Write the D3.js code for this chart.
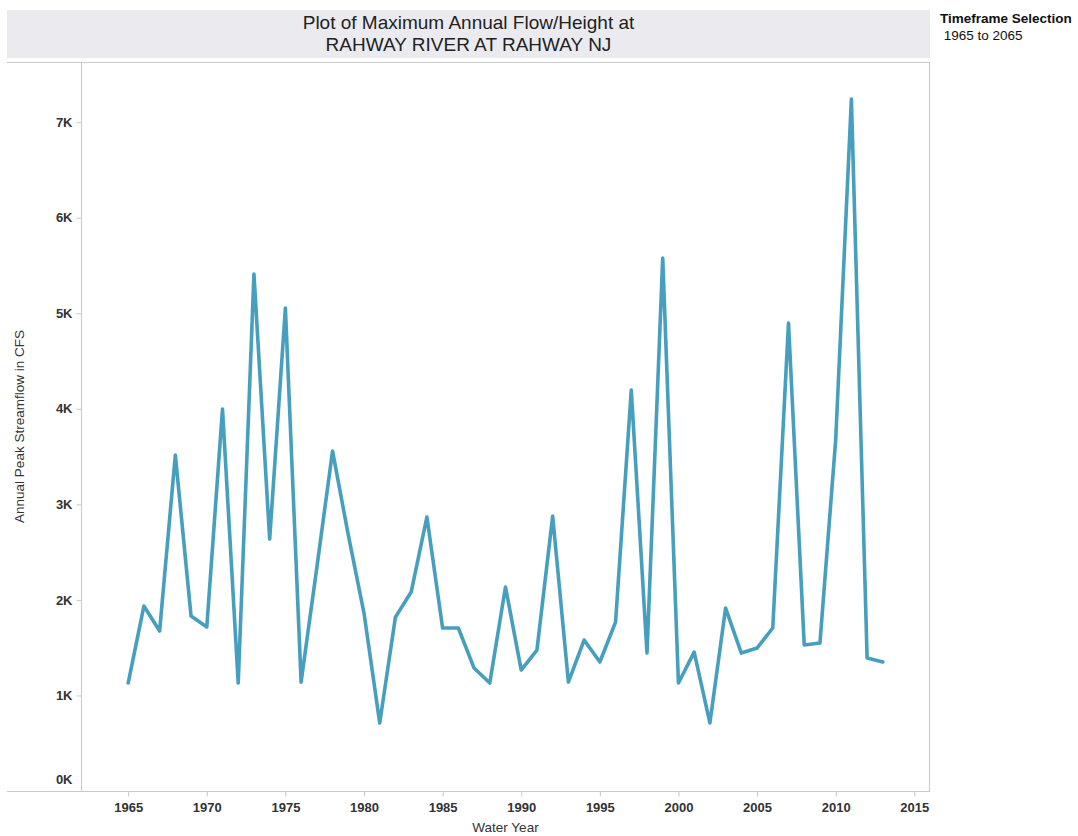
<!DOCTYPE html>
<html>
<head>
<meta charset="utf-8">
<script src="https://cdn.jsdelivr.net/npm/d3@7"></script>
<style>
  html, body { margin: 0; padding: 0; background: #fff; }
  svg { display: block; font-family: "Liberation Sans", Arial, sans-serif; }
</style>
</head>
<body>
<svg id="chart" width="1078" height="836"></svg>
<script>
// Annual peak streamflow, Rahway River at Rahway NJ (cfs)
const years = [
  1965, 1966, 1967, 1968, 1969, 1970, 1971, 1972, 1973, 1974,
  1975, 1976, 1977, 1978, 1979, 1980, 1981, 1982, 1983, 1984,
  1985, 1986, 1987, 1988, 1989, 1990, 1991, 1992, 1993, 1994,
  1995, 1996, 1997, 1998, 1999, 2000, 2001, 2002, 2003, 2004,
  2005, 2006, 2007, 2008, 2009, 2010, 2011, 2012, 2013
];
const peakFlow = [
  1130, 1936, 1674, 3516, 1831, 1716, 3997, 1130, 5410, 2637,
  5054, 1140, 2340, 3558, 2680, 1862, 712, 1820, 2082, 2867,
  1706, 1706, 1287, 1130, 2135, 1266, 1475, 2877, 1140, 1580,
  1350, 1768, 4196, 1444, 5577, 1130, 1454, 712, 1915, 1444,
  1496, 1706, 4897, 1528, 1549, 3673, 7241, 1392, 1350
];
const xTicks = [1965, 1970, 1975, 1980, 1985, 1990, 1995, 2000, 2005, 2010, 2015];
const yTicks = [0, 1000, 2000, 3000, 4000, 5000, 6000, 7000];

const titleLines = ["Plot of Maximum Annual Flow/Height at", "RAHWAY RIVER AT RAHWAY NJ"];
const legendTitle = "Timeframe Selection";
const legendValue = " 1965 to 2065";

const svg = d3.select("#chart");

const frame = { left: 7, right: 930, top: 62, bottom: 791 };
const plot = { left: 81, right: 930, top: 62, bottom: 791 };

// title band
svg.append("rect")
  .attr("x", frame.left).attr("y", 10)
  .attr("width", frame.right - frame.left).attr("height", 48)
  .attr("fill", "#ebebef");
svg.selectAll("text.title").data(titleLines).join("text")
  .attr("class", "title")
  .attr("x", (frame.left + frame.right) / 2)
  .attr("y", (d, i) => 29 + i * 22)
  .attr("text-anchor", "middle")
  .attr("font-size", 19)
  .attr("fill", "#222")
  .text(d => d);

// legend
svg.append("text").attr("x", 940).attr("y", 23)
  .attr("font-size", 13.5).attr("font-weight", "bold").attr("fill", "#111")
  .text(legendTitle);
svg.append("text").attr("x", 940).attr("y", 40)
  .attr("font-size", 13.5).attr("fill", "#111")
  .style("white-space", "pre")
  .text(legendValue);

// scales
const x = d3.scaleLinear().domain([1962, 2016]).range([plot.left, plot.right]);
const y = d3.scaleLinear().domain([0, 7630]).range([plot.bottom, plot.top]);

// frame lines
const lineColor = "#c8c8c8";
svg.append("line").attr("x1", frame.left).attr("x2", frame.right)
  .attr("y1", frame.top + 0.5).attr("y2", frame.top + 0.5)
  .attr("stroke", lineColor);
svg.append("line").attr("x1", frame.right - 0.5).attr("x2", frame.right - 0.5)
  .attr("y1", frame.top).attr("y2", frame.bottom)
  .attr("stroke", lineColor);

// y axis
const yAxis = d3.axisLeft(y).tickValues(yTicks).tickSize(5).tickPadding(4)
  .tickFormat(d => d3.format("d")(d / 1000) + "K");
const gy = svg.append("g").attr("transform", `translate(${plot.left + 0.5},0)`).call(yAxis);
gy.select(".domain").attr("stroke", lineColor).attr("d", `M0,${plot.top}V${plot.bottom}`);
gy.selectAll(".tick line").attr("stroke", lineColor);
gy.selectAll(".tick text")
  .attr("font-family", "'Liberation Sans', Arial, sans-serif")
  .attr("font-size", 13).attr("font-weight", "bold").attr("fill", "#333");
// zero label sits above the baseline
gy.selectAll(".tick").filter(d => d === 0).select("text").attr("dy", "-0.55em");
gy.selectAll(".tick").filter(d => d === 0).select("line").remove();

// x axis
const xAxis = d3.axisBottom(x).tickValues(xTicks).tickSize(5).tickPadding(6)
  .tickFormat(d3.format("d"));
const gx = svg.append("g").attr("transform", `translate(0,${plot.bottom + 0.5})`).call(xAxis);
gx.select(".domain").attr("stroke", lineColor).attr("d", `M${frame.left},0H${frame.right}`);
gx.selectAll(".tick line").attr("stroke", lineColor);
gx.selectAll(".tick text")
  .attr("font-family", "'Liberation Sans', Arial, sans-serif")
  .attr("font-size", 13).attr("font-weight", "bold").attr("fill", "#333");

// axis titles
svg.append("text")
  .attr("x", (plot.left + plot.right) / 2).attr("y", 832)
  .attr("text-anchor", "middle").attr("font-size", 13.5).attr("fill", "#333")
  .text("Water Year");
svg.append("text")
  .attr("transform", `translate(24,${(plot.top + plot.bottom) / 2}) rotate(-90)`)
  .attr("text-anchor", "middle").attr("font-size", 13.5).attr("fill", "#333")
  .text("Annual Peak Streamflow in CFS");

// data line
const series = years.map((yr, i) => ({ year: yr, value: peakFlow[i] }));
const line = d3.line().x(d => x(d.year)).y(d => y(d.value));
svg.append("path")
  .datum(series)
  .attr("d", line)
  .attr("fill", "none")
  .attr("stroke", "#479fbf")
  .attr("stroke-width", 3.6)
  .attr("stroke-linejoin", "round")
  .attr("stroke-linecap", "round");
</script>
</body>
</html>
